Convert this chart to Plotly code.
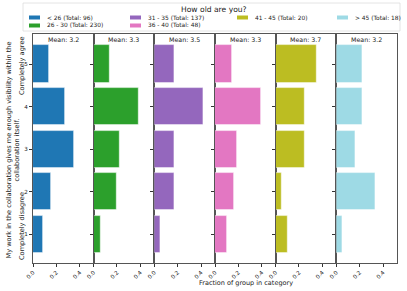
import plotly.graph_objects as go
from plotly.subplots import make_subplots

groups = ["< 26", "26 - 30", "31 - 35", "36 - 40", "41 - 45", "> 45"]
levels = [1, 2, 3, 4, 5]
# counts per answer level 1..5 for each group
counts = {
    "< 26":    [8, 15, 34, 26, 13],
    "26 - 30": [13, 46, 51, 88, 32],
    "31 - 35": [7, 24, 24, 58, 24],
    "36 - 40": [5, 8, 9, 19, 7],
    "41 - 45": [2, 1, 5, 5, 7],
    "> 45":    [1, 6, 3, 4, 4],
}
colors = ["#1f77b4", "#2ca02c", "#9467bd", "#e377c2", "#bcbd22", "#9edae5"]
xticks = [0.0, 0.2, 0.4]
question = "My work in the collaboration gives me enough visibility within the<br>collaboration itself."
legend_title = "How old are you?"

W, H = 407, 291
ML, MR, MT, MB = 33, 10, 34, 28
PW, PH = W - ML - MR, H - MT - MB

def px(x):
    return (x - ML) / PW

def py(y):
    return (H - MB - y) / PH

FONT = "DejaVu Sans"
fig = make_subplots(rows=1, cols=6, shared_yaxes=True, horizontal_spacing=0)

def note(text, x, y, size, angle=0, xanchor="center", xref="paper"):
    fig.add_annotation(text=text, xref=xref, yref="paper", x=x, y=y, textangle=angle,
                       xanchor=xanchor, yanchor="middle", showarrow=False,
                       font=dict(size=size, color="#222", family=FONT))

for i, g in enumerate(groups):
    c = counts[g]
    tot = sum(c)
    frac = [v / tot for v in c]
    mean = sum(l * v for l, v in zip(levels, c)) / tot
    fig.add_trace(go.Bar(x=frac, y=levels, orientation="h", width=0.88,
                         marker=dict(color=colors[i], line=dict(color="rgba(255,255,255,0.6)", width=0.8)),
                         showlegend=False, hoverinfo="skip"), row=1, col=i + 1)
    xa = "x" if i == 0 else f"x{i+1}"
    note(f"Mean: {mean:.1f}", 0.5, py(39.5), 6.3, xref=f"{xa} domain")

fig.update_xaxes(range=[0, 0.52], tickvals=xticks, ticktext=[f"{t:.1f}" for t in xticks],
                 tickangle=-45, ticks="outside", ticklen=3, tickwidth=0.8, tickcolor="#333",
                 showline=True, linecolor="#555", linewidth=1, mirror=True, automargin=False,
                 showgrid=False, zeroline=False, tickfont=dict(size=5.6, color="#222", family=FONT))
fig.update_yaxes(range=[0.325, 5.71], tickvals=levels, ticks="outside", ticklen=3, tickwidth=0.8,
                 tickcolor="#333", showline=True, linecolor="#555", linewidth=1, mirror=True,
                 automargin=False,
                 showgrid=False, zeroline=False, tickfont=dict(size=5.6, color="#222", family=FONT))
for i in range(2, 7):
    fig.update_yaxes(showticklabels=False, row=1, col=i)

# y labels
note(question, px(12.5), py(150), 6.6, angle=-90)
note("Completely agree", px(22), py(66), 6.6, angle=-90)
note("Completely disagree", px(22), py(226), 6.6, angle=-90)
# x label
note("Fraction of group in category", px(245.5), py(283), 6.5)

# legend (manual)
fig.add_shape(type="rect", xref="paper", yref="paper", x0=px(23), x1=px(400), y0=py(31), y1=py(3),
              line=dict(color="#ddd", width=0.8), fillcolor="white", layer="above")
note(legend_title, px(214), py(9.5), 7.6)
col_x = [29, 130, 237, 337]
row_y = [17.5, 25.5]
order = [(0, 0), (0, 1), (1, 0), (1, 1), (2, 0), (3, 0)]
for i, g in enumerate(groups):
    cc, rr = order[i]
    x0 = col_x[cc]
    yc = row_y[rr]
    fig.add_shape(type="rect", xref="paper", yref="paper", x0=px(x0), x1=px(x0 + 11),
                  y0=py(yc + 2), y1=py(yc - 2), fillcolor=colors[i], line=dict(width=0), layer="above")
    note(f"{g} (Total: {sum(counts[g])})", px(x0 + 16), py(yc), 5.9, xanchor="left")

fig.update_layout(width=W, height=H, margin=dict(l=ML, r=MR, t=MT, b=MB, autoexpand=False),
                  plot_bgcolor="white", paper_bgcolor="white", bargap=0,
                  font=dict(family=FONT))
fig.write_html("out.html", config={"displayModeBar": False},
               post_script="document.body.style.margin='0';document.body.style.overflow='hidden';")
